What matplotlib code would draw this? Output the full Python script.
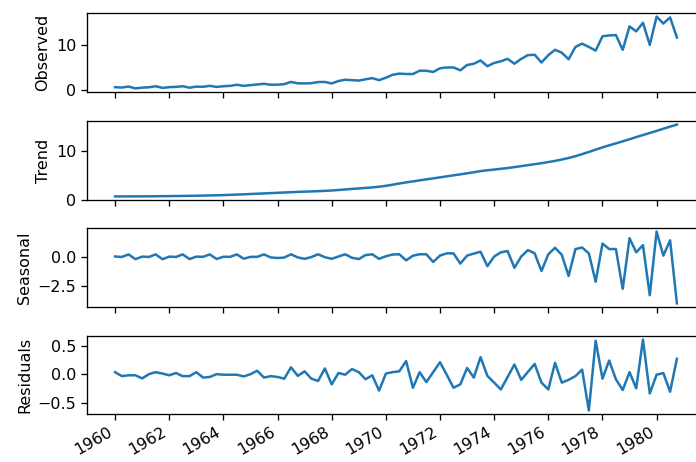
import matplotlib
matplotlib.use("Agg")
import matplotlib.pyplot as plt
import matplotlib.dates as mdates
import pandas as pd

start_date = "1960-01-01"
n_quarters = 84

observed = [0.71, 0.63, 0.85, 0.44, 0.61, 0.69, 0.92, 0.55, 0.72, 0.77, 0.92, 0.60,
            0.83, 0.80, 1.00, 0.77, 0.92, 1.00, 1.24, 1.00, 1.16, 1.30, 1.45, 1.25,
            1.26, 1.38, 1.86, 1.56, 1.53, 1.59, 1.83, 1.86, 1.53, 2.07, 2.34, 2.25,
            2.16, 2.43, 2.70, 2.25, 2.79, 3.42, 3.69, 3.60, 3.60, 4.32, 4.32, 4.05,
            4.86, 5.04, 5.04, 4.41, 5.58, 5.85, 6.57, 5.31, 6.03, 6.39, 6.93, 5.85,
            6.93, 7.74, 7.83, 6.12, 7.74, 8.91, 8.28, 6.84, 9.54, 10.26, 9.54, 8.73,
            11.88, 12.06, 12.15, 8.91, 14.04, 12.96, 14.85, 9.99, 16.20, 14.67, 16.02, 11.61]

trend = [0.66, 0.66, 0.66, 0.67, 0.67, 0.68, 0.69, 0.71, 0.72, 0.74, 0.76, 0.78,
         0.80, 0.83, 0.86, 0.89, 0.93, 0.98, 1.03, 1.09, 1.15, 1.21, 1.27, 1.33,
         1.40, 1.46, 1.52, 1.58, 1.63, 1.68, 1.73, 1.79, 1.87, 1.97, 2.08, 2.19,
         2.29, 2.39, 2.50, 2.64, 2.82, 3.05, 3.30, 3.52, 3.73, 3.94, 4.15, 4.35,
         4.55, 4.76, 4.97, 5.17, 5.38, 5.60, 5.83, 6.00, 6.15, 6.30, 6.46, 6.65,
         6.85, 7.05, 7.25, 7.45, 7.68, 7.92, 8.20, 8.52, 8.88, 9.30, 9.75, 10.22,
         10.68, 11.10, 11.50, 11.92, 12.35, 12.78, 13.20, 13.62, 14.05, 14.50, 14.92, 15.34]

seasonal = [0.03, -0.01, 0.21, -0.20, 0.02, -0.01, 0.21, -0.20, 0.02, -0.01, 0.21, -0.19,
            0.02, 0.00, 0.21, -0.18, 0.01, 0.00, 0.21, -0.16, 0.00, 0.00, 0.21, -0.05,
            -0.10, -0.06, 0.22, -0.05, -0.17, -0.02, 0.22, -0.03, -0.17, 0.03, 0.22, -0.08,
            -0.19, 0.15, 0.22, -0.17, 0.05, 0.20, 0.22, -0.30, 0.10, 0.22, 0.22, -0.44,
            0.11, 0.30, 0.30, -0.58, 0.11, 0.28, 0.44, -0.80, 0.03, 0.39, 0.50, -0.94,
            0.03, 0.58, 0.30, -1.22, 0.22, 0.78, 0.17, -1.64, 0.67, 0.80, 0.30, -2.14,
            1.14, 0.67, 0.67, -2.75, 1.60, 0.39, 1.00, -3.30, 2.17, 0.11, 1.42, -4.00]

residuals = [0.035, -0.035, -0.02, -0.02, -0.075, 0.0, 0.035, 0.01, -0.02, 0.02, -0.035, -0.035,
             0.035, -0.06, -0.05, 0.0, -0.01, -0.01, -0.01, -0.04, 0.0, 0.06, -0.06, -0.035,
             -0.05, -0.08, 0.12, -0.03, 0.05, -0.08, -0.12, 0.10, -0.18, 0.02, -0.01, 0.09,
             0.035, -0.09, -0.02, -0.29, 0.01, 0.035, 0.05, 0.23, -0.24, 0.035, -0.14, 0.035,
             0.21, -0.01, -0.24, -0.18, 0.11, -0.06, 0.30, -0.03, -0.15, -0.27, -0.05, 0.17,
             -0.10, 0.04, 0.18, -0.15, -0.27, 0.20, -0.15, -0.10, -0.035, 0.08, -0.64, 0.59,
             -0.08, 0.24, -0.09, -0.28, 0.035, -0.25, 0.61, -0.34, -0.01, 0.02, -0.31, 0.27]

panel_labels = ["Observed", "Trend", "Seasonal", "Residuals"]
panel_ticks = [[0, 10], [0, 10], [-2.5, 0.0], [-0.5, 0.0, 0.5]]

dates = pd.date_range(start_date, periods=n_quarters, freq="QS")
series = [observed, trend, seasonal, residuals]

FS = 11.5
plt.rcParams["axes.linewidth"] = 0.95
plt.rcParams["xtick.major.width"] = 0.95
plt.rcParams["ytick.major.width"] = 0.95
plt.rcParams["xtick.major.size"] = 4.1
plt.rcParams["ytick.major.size"] = 4.1

W, H = 696, 462
fig = plt.figure(figsize=(W / 100, H / 100), dpi=100)
panels_px = [(13, 92), (121, 200), (228, 307), (336, 414)]
left_px, right_px = 87, 705
axes = []
for k, (top, bot) in enumerate(panels_px):
    rect = [left_px / W, 1 - bot / H, (right_px - left_px) / W, (bot - top) / H]
    ax = fig.add_axes(rect, sharex=axes[0] if axes else None)
    ax.plot(dates, series[k], color="#1f77b4", lw=1.8)
    ax.set_ylabel(panel_labels[k], fontsize=FS)
    ax.set_yticks(panel_ticks[k])
    ax.tick_params(labelsize=FS)
    axes.append(ax)

axes[-1].xaxis.set_major_locator(mdates.YearLocator(2))
axes[-1].xaxis.set_major_formatter(mdates.DateFormatter("%Y"))
for ax in axes[:-1]:
    ax.tick_params(labelbottom=False)
for lab in axes[-1].get_xticklabels():
    lab.set_rotation(30)
    lab.set_ha("right")

fig.savefig("out.png", dpi=100)
